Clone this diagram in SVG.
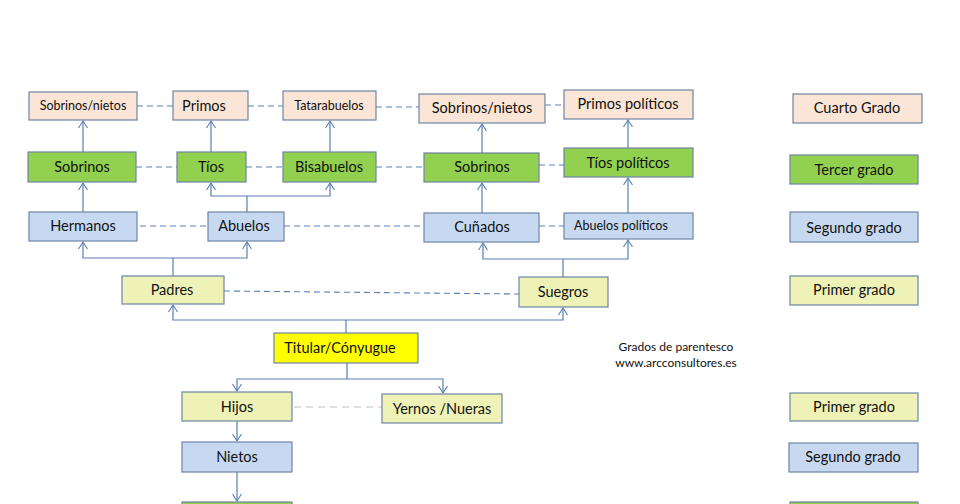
<svg xmlns="http://www.w3.org/2000/svg" width="960" height="504" viewBox="0 0 960 504">
<defs>
<style>
.b{stroke:#6f84a3;stroke-width:1.2}
.p{fill:#fbe5d6}
.g{fill:#92d050}
.u{fill:#c6d9f1}
.y{fill:#eff2b7}
.t{fill:#ffff00}
text{font-family:Lato,"Open Sans","Liberation Sans",sans-serif;font-size:14.5px;fill:#111111;text-anchor:middle}
.s{font-size:12.5px}
.cap{font-size:12px}
.c{fill:none;stroke:#5a7fb3;stroke-width:1.2}
.d{fill:none;stroke:#5a7fb3;stroke-width:1.1;stroke-dasharray:6 4}
.dl{fill:none;stroke:#d6d6d6;stroke-width:1.3;stroke-dasharray:7 5}
.a{marker-end:url(#arr)}
</style>
<marker id="arr" markerUnits="userSpaceOnUse" markerWidth="12" markerHeight="12" viewBox="-8 -6 10 12" refX="0" refY="0" orient="auto">
<path d="M-7,-4.5 L0,0 L-7,4.5" fill="none" stroke="#5a7fb3" stroke-width="1.1"/>
</marker>
</defs>
<rect width="960" height="504" fill="#ffffff"/>
<g id="connectors">
<path class="c a" d="M83,152 V121"/>
<path class="c a" d="M211,152 V121"/>
<path class="c a" d="M330,152 V121"/>
<path class="c a" d="M482,153 V124"/>
<path class="c a" d="M628,148 V120"/>
<path class="c a" d="M83,212 V183"/>
<path class="c" d="M247,212 V196"/>
<path class="c a" d="M247,196 H211 V183"/>
<path class="c a" d="M247,196 H330 V183"/>
<path class="c a" d="M482,213 V183"/>
<path class="c a" d="M628,213 V178"/>
<path class="c" d="M173,276 V258"/>
<path class="c a" d="M173,258 H83 V242"/>
<path class="c a" d="M173,258 H247 V242"/>
<path class="c" d="M563,277 V259"/>
<path class="c a" d="M563,259 H483 V243"/>
<path class="c a" d="M563,259 H628 V240"/>
<path class="c" d="M346,333 V320"/>
<path class="c a" d="M346,320 H173 V305"/>
<path class="c a" d="M346,320 H563 V308"/>
<path class="c" d="M347,363 V379"/>
<path class="c a" d="M347,379 H237 V391"/>
<path class="c a" d="M347,379 H443 V393"/>
<path class="c a" d="M237,421 V441"/>
<path class="c a" d="M237,472 V501"/>
<path class="d" d="M137,106 H173"/>
<path class="d" d="M248,106 H283"/>
<path class="d" d="M376,107 H419"/>
<path class="d" d="M545,105 H564"/>
<path class="d" d="M136,167 H177"/>
<path class="d" d="M246,167 H283"/>
<path class="d" d="M376,167 H424"/>
<path class="d" d="M539,165 H564"/>
<path class="d" d="M140,226 H208"/>
<path class="d" d="M284,226 H424"/>
<path class="d" d="M539,226 H564"/>
<path class="d" d="M224,291 L519,294"/>
<path class="dl" d="M294,407 H382"/>
</g>
<g id="n-sobrinos-nietos-1"><rect class="b p" x="29" y="92" width="108" height="28"/><text class="s" x="83" y="110">Sobrinos/nietos</text></g>
<g id="n-primos"><rect class="b p" x="173" y="91" width="75" height="29"/><text x="204" y="111">Primos</text></g>
<g id="n-tatarabuelos"><rect class="b p" x="283" y="91" width="93" height="29"/><text class="s" x="329" y="110">Tatarabuelos</text></g>
<g id="n-sobrinos-nietos-2"><rect class="b p" x="419" y="94" width="126" height="29"/><text x="482" y="113">Sobrinos/nietos</text></g>
<g id="n-primos-politicos"><rect class="b p" x="564" y="90" width="129" height="29"/><text x="628" y="109">Primos  políticos</text></g>
<g id="n-sobrinos-1"><rect class="b g" x="28" y="152" width="108" height="30"/><text x="82" y="172">Sobrinos</text></g>
<g id="n-tios"><rect class="b g" x="177" y="152" width="69" height="30"/><text x="211" y="172">Tíos</text></g>
<g id="n-bisabuelos"><rect class="b g" x="283" y="152" width="93" height="30"/><text x="329" y="172">Bisabuelos</text></g>
<g id="n-sobrinos-2"><rect class="b g" x="424" y="153" width="115" height="29"/><text x="482" y="172">Sobrinos</text></g>
<g id="n-tios-politicos"><rect class="b g" x="564" y="148" width="129" height="29"/><text x="628" y="168">Tíos políticos</text></g>
<g id="n-hermanos"><rect class="b u" x="29" y="212" width="108" height="29"/><text x="83" y="231">Hermanos</text></g>
<g id="n-abuelos"><rect class="b u" x="208" y="212" width="76" height="29"/><text x="244" y="231">Abuelos</text></g>
<g id="n-cunados"><rect class="b u" x="424" y="213" width="115" height="29"/><text x="482" y="232">Cuñados</text></g>
<g id="n-abuelos-politicos"><rect class="b u" x="564" y="213" width="129" height="26"/><text class="s" x="621" y="230">Abuelos políticos</text></g>
<g id="n-padres"><rect class="b y" x="122" y="276" width="102" height="28"/><text x="172" y="295">Padres</text></g>
<g id="n-suegros"><rect class="b y" x="519" y="277" width="89" height="30"/><text x="563" y="297">Suegros</text></g>
<g id="n-titular"><rect class="b t" x="274" y="333" width="144" height="30"/><text x="340" y="353">Titular/Cónyugue</text></g>
<g id="n-hijos"><rect class="b y" x="182" y="392" width="110" height="29"/><text x="237" y="412">Hijos</text></g>
<g id="n-yernos"><rect class="b y" x="382" y="394" width="120" height="29"/><text x="442" y="414">Yernos /Nueras</text></g>
<g id="n-nietos"><rect class="b u" x="182" y="442" width="110" height="30"/><text x="237" y="462">Nietos</text></g>
<g id="n-bisnietos"><rect class="b g" x="182" y="502" width="110" height="30"/></g>
<g id="legend-cuarto"><rect class="b p" x="793" y="94" width="129" height="29"/><text x="857" y="113">Cuarto Grado</text></g>
<g id="legend-tercer"><rect class="b g" x="790" y="155" width="128" height="29"/><text x="854" y="175">Tercer grado</text></g>
<g id="legend-segundo"><rect class="b u" x="790" y="212" width="128" height="30"/><text x="854" y="233">Segundo grado</text></g>
<g id="legend-primer"><rect class="b y" x="790" y="276" width="128" height="29"/><text x="854" y="295">Primer grado</text></g>
<g id="legend-primer-2"><rect class="b y" x="790" y="393" width="128" height="28"/><text x="854" y="412">Primer grado</text></g>
<g id="legend-segundo-2"><rect class="b u" x="789" y="443" width="129" height="29"/><text x="853" y="462">Segundo grado</text></g>
<g id="legend-tercer-2"><rect class="b g" x="790" y="502" width="128" height="30"/></g>
<g id="caption"><text class="cap" x="676" y="351">Grados de parentesco</text><text class="cap" x="676" y="367">www.arcconsultores.es</text></g>
</svg>
